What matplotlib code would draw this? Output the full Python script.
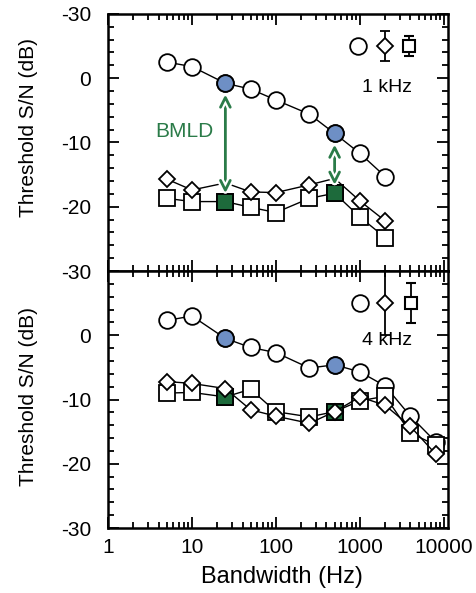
import numpy as np
import matplotlib
matplotlib.use("Agg")
import matplotlib.pyplot as plt
import matplotlib.patheffects as pe
from matplotlib.ticker import MultipleLocator, LogLocator, NullFormatter

plt.rcParams["font.family"] = ["Liberation Sans", "DejaVu Sans"]

# bandwidths (Hz)
bw_1k = [5, 10, 25, 50, 100, 250, 500, 1000, 2000]
bw_4k = [5, 10, 25, 50, 100, 250, 500, 1000, 2000, 4000, 8000]

# threshold S/N (dB), 1 kHz centre frequency
circ_1k = [2.5, 1.8, -0.8, -1.7, -3.4, -5.6, -8.6, -11.7, -15.3]
diam_1k = [-15.7, -17.4, -16.3, -17.7, -17.8, -16.6, -15.6, -19.1, -22.2]
sq_1k = [-18.7, -19.2, -19.2, -20.1, -20.9, -18.7, -17.9, -21.6, -24.8]

# threshold S/N (dB), 4 kHz centre frequency
circ_4k = [2.3, 3.0, -0.5, -1.9, -2.7, -5.1, -4.6, -5.7, -7.9, -12.6, -16.6]
diam_4k = [-7.2, -7.5, -8.3, -11.6, -12.6, -13.7, -11.9, -9.6, -10.9, -14.2, -18.5]
sq_4k = [-9.0, -8.9, -9.6, -8.4, -11.9, -12.7, -11.9, -10.2, -9.5, -15.2, -17.1]

# typical standard deviations (diamond, square)
sd_1k = [2.4, 1.6]
sd_4k = [5.0, 3.1]

# bandwidths where BMLD is marked
hl_idx = [2, 6]

ytick_vals = [10, 0, -10, -20, -30]
ytick_top = ["-30", "0", "-10", "-20", "-30"]
ytick_bot = ["", "0", "-10", "-20", "-30"]
xtick_vals = [1, 10, 100, 1000, 10000]
xtick_labels = ["1", "10", "100", "1000", "10000"]

blue = "#6e8fc5"
green_fill = "#1d6a3b"
green = "#2a7b48"

fig = plt.figure(figsize=(4.77, 5.93), dpi=100)
ax1 = fig.add_axes([0.2264, 0.543, 0.7128, 0.4336])
ax2 = fig.add_axes([0.2264, 0.1096, 0.7128, 0.4334])

mk = dict(color="black", lw=1.0, mec="black", mew=1.3, mfc="white")


def style(ax, ylabels):
    ax.set_xscale("log")
    ax.set_xlim(1, 11200)
    ax.set_ylim(-30, 10)
    ax.set_yticks(ytick_vals)
    ax.set_yticklabels(ylabels)
    ax.yaxis.set_minor_locator(MultipleLocator(2))
    ax.xaxis.set_major_locator(LogLocator(base=10, numticks=10))
    ax.xaxis.set_minor_locator(LogLocator(base=10, subs=np.arange(2, 10), numticks=20))
    ax.xaxis.set_minor_formatter(NullFormatter())
    ax.tick_params(which="both", direction="in", top=True, right=True, width=1.3,
                   labelsize=15)
    ax.tick_params(which="major", length=8)
    ax.tick_params(axis="x", which="major", pad=7)
    ax.tick_params(axis="y", which="major", pad=12)
    ax.tick_params(which="minor", length=4)
    for s in ax.spines.values():
        s.set_linewidth(1.8)
    ax.set_ylabel("Threshold S/N (dB)", fontsize=15)


# --- 1 kHz ---
style(ax1, ytick_top)
ax1.tick_params(labelbottom=False)
ax1.plot(bw_1k, circ_1k, marker="o", ms=12, zorder=3, **mk)
ax1.plot([bw_1k[i] for i in hl_idx], [circ_1k[i] for i in hl_idx], ls="none",
         marker="o", ms=12, mfc=blue, mec="black", mew=1.3, zorder=4)
ax1.plot(bw_1k, sq_1k, marker="s", ms=11, zorder=3, **mk)
show = [i for i in range(len(bw_1k)) if i not in hl_idx]
ax1.plot(bw_1k, diam_1k, marker="D", ms=8.5, markevery=show, zorder=3, **mk)
ax1.plot([bw_1k[i] for i in hl_idx], [sq_1k[i] for i in hl_idx], ls="none",
         marker="s", ms=11, mfc=green_fill, mec="black", mew=1.3, zorder=5)

for i in hl_idx:
    ann = ax1.annotate("", xy=(bw_1k[i], sq_1k[i]), xytext=(bw_1k[i], circ_1k[i]),
                       arrowprops=dict(arrowstyle="<->,head_length=0.7,head_width=0.35",
                                       color=green, lw=2, shrinkA=8, shrinkB=6),
                       zorder=6)
    ann.arrow_patch.set_path_effects([pe.Stroke(linewidth=5, foreground="white"),
                                      pe.Normal()])

ax1.text(0.226, 0.541, "BMLD", color=green, fontsize=15, ha="center", va="center",
         transform=ax1.transAxes)

# symbol key with typical error bars
ax1.plot(946, 5, marker="o", ms=12, ls="none", mfc="white", mec="black", mew=1.3)
ax1.errorbar(1985, 5, yerr=sd_1k[0], marker="D", ms=8.5, mfc="white", mec="black",
             mew=1.3, color="black", elinewidth=1.3, capsize=3.5, capthick=1.3)
ax1.errorbar(3885, 5, yerr=sd_1k[1], marker="s", ms=9, mfc="white", mec="black",
             mew=1.5, color="black", elinewidth=1.3, capsize=3.5, capthick=1.3)
ax1.text(0.82, 0.712, "1 kHz", fontsize=14, ha="center", va="center",
         transform=ax1.transAxes)
ax1.yaxis.set_label_coords(-0.206, 0.56)

# --- 4 kHz ---
style(ax2, ytick_bot)
ax2.set_xticks(xtick_vals)
ax2.set_xticklabels(xtick_labels)
ax2.plot(bw_4k, circ_4k, marker="o", ms=12, zorder=3, **mk)
ax2.plot([bw_4k[i] for i in hl_idx], [circ_4k[i] for i in hl_idx], ls="none",
         marker="o", ms=12, mfc=blue, mec="black", mew=1.3, zorder=4)
ax2.plot(bw_4k, sq_4k, marker="s", ms=11, zorder=3, **mk)
ax2.plot([bw_4k[i] for i in hl_idx], [sq_4k[i] for i in hl_idx], ls="none",
         marker="s", ms=11, mfc=green_fill, mec="black", mew=1.3, zorder=4)
ax2.plot(bw_4k, diam_4k, marker="D", ms=8.5, zorder=5, **mk)

ax2.plot(1000, 5, marker="o", ms=12, ls="none", mfc="white", mec="black", mew=1.3)
ax2.errorbar(2000, 5, yerr=sd_4k[0], marker="D", ms=8.5, mfc="white", mec="black",
             mew=1.3, color="black", elinewidth=1.3, capsize=3.5, capthick=1.3,
             clip_on=False)
ax2.errorbar(4050, 5, yerr=sd_4k[1], marker="s", ms=9, mfc="white", mec="black",
             mew=1.5, color="black", elinewidth=1.3, capsize=3.5, capthick=1.3)
ax2.text(0.82, 0.728, "4 kHz", fontsize=14, ha="center", va="center",
         transform=ax2.transAxes)
ax2.yaxis.set_label_coords(-0.206, 0.51)
ax2.set_xlabel("Bandwidth (Hz)", fontsize=17)
ax2.xaxis.set_label_coords(0.513, -0.148)

fig.savefig("out.png", dpi=100)
